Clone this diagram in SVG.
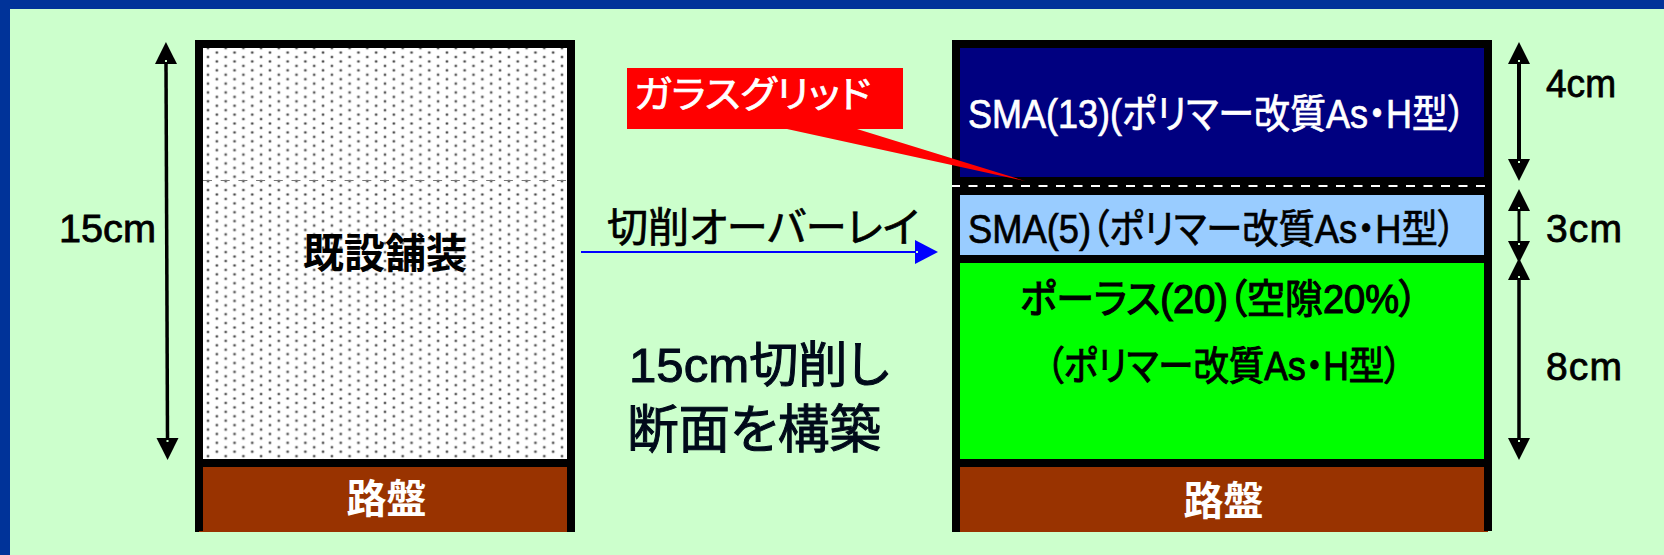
<svg xmlns="http://www.w3.org/2000/svg" width="1664" height="555" viewBox="0 0 1664 555">
<style>
text{font-family:"Liberation Sans","Noto Sans CJK JP",sans-serif;font-feature-settings:"palt";fill:#000}
.w{fill:#fff}
.b{font-weight:700}
.k{stroke:#000;stroke-width:.7px}
.kw{stroke:#fff;stroke-width:.7px}
.m{font-size:39px;stroke:#000;stroke-width:.8px}
.big{fill:#000a1a;stroke:#000a1a;stroke-width:1px}
.dim{stroke:#000;fill:none;marker-start:url(#head);marker-end:url(#head)}
</style>
<defs>
<g id="dot"><circle r="1.800" fill="#bbb"/><circle r="1" fill="#444"/></g>
<pattern id="dots" patternUnits="userSpaceOnUse" x="208" y="57" width="17.7" height="8.87">
<rect width="17.7" height="8.87" fill="#fff"/>
<use href="#dot"/><use href="#dot" x="17.7"/><use href="#dot" y="8.87"/><use href="#dot" x="17.7" y="8.87"/><use href="#dot" x="8.85" y="4.43"/>
</pattern>
<marker id="head" viewBox="0 0 22 22" refX="0" refY="11" markerUnits="userSpaceOnUse" markerWidth="22" markerHeight="22" orient="auto-start-reverse" overflow="visible">
<path d="M0 0L22 11L0 22Z" fill="#000"/><rect x="2" y="10" width="2" height="2" fill="#ccffcc"/>
</marker>
<marker id="bhead" viewBox="0 0 23 24" refX="0" refY="12" markerUnits="userSpaceOnUse" markerWidth="23" markerHeight="24" orient="auto">
<path d="M0 0L23 12L0 24Z" fill="#0000ff"/><rect x="1" y="11" width="2" height="2" fill="#ccffcc"/>
</marker>
</defs>
<rect width="1664" height="555" fill="#003399"/>
<rect x="10" y="9" width="1654" height="546" fill="#ccffcc"/>
<g id="existing-section">
<rect x="199" y="467" width="372" height="65" fill="#993300"/>
<rect x="195" y="40" width="380" height="492" fill="#000"/>
<rect x="199" y="531" width="4" height="1" fill="#993300"/>
<rect x="203" y="48" width="364" height="411" fill="url(#dots)"/>
<path d="M203 180.5H567" stroke="#777" stroke-width="1" stroke-dasharray="9 8.7" fill="none"/>
<text x="385" y="268" text-anchor="middle" class="b" font-size="41">既設舗装</text>
<rect id="left-base" x="203" y="467" width="364" height="65" fill="#993300"/>
<text x="386.500" y="513" text-anchor="middle" class="w b" font-size="40">路盤</text>
</g>
<g id="new-section">
<rect x="952" y="40" width="540" height="492" fill="#000"/>
<rect x="1484" y="531" width="8" height="1" fill="#ccffcc"/>
<rect x="1484" y="531" width="4" height="1" fill="#993300"/>
<path d="M952 186H1492" stroke="#fff" stroke-width="1.800" stroke-dasharray="9 8.500" stroke-dashoffset="1" fill="none"/>
<g id="layer-sma13">
<rect x="960" y="48" width="524" height="129" fill="#000080"/>
<text x="968" y="128" class="w kw" font-size="40" textLength="498" lengthAdjust="spacingAndGlyphs">SMA(13)(ポリマー改質As・H型）</text>
</g>
<g id="layer-sma5">
<rect x="960" y="195" width="524" height="60" fill="#99ccff"/>
<text x="968" y="243" class="k" font-size="40" textLength="488" lengthAdjust="spacingAndGlyphs">SMA(5)（ポリマー改質As・H型）</text>
</g>
<g id="layer-porous">
<rect x="960" y="263" width="524" height="196" fill="#00ff00"/>
<text x="1020" y="313" class="k" font-size="40" textLength="398" lengthAdjust="spacingAndGlyphs" style="stroke-width:1.200px">ポーラス(20)（空隙20%）</text>
<text x="1046" y="380" class="k" font-size="40" textLength="356" lengthAdjust="spacingAndGlyphs" style="stroke-width:1px">（ポリマー改質As・H型）</text>
</g>
<g id="right-base">
<rect x="960" y="467" width="524" height="65" fill="#993300"/>
<text x="1223.500" y="515" text-anchor="middle" class="w b" font-size="40">路盤</text>
</g>
</g>
<g id="callout">
<path d="M627 68H903V129H857L1025 181L787 129H627Z" fill="#ff0000"/>
<text x="634" y="108" class="w kw" font-size="37" textLength="237" lengthAdjust="spacingAndGlyphs">ガラスグリッド</text>
</g>
<g id="connectors">
<path class="dim" d="M166 64L167.500 438" stroke-width="3.500"/>
<path class="dim" d="M1519 64V159" stroke-width="4"/>
<path class="dim" d="M1519 211V241" stroke-width="3"/>
<path class="dim" d="M1519 280V438" stroke-width="3.500"/>
<path d="M581 252H915" stroke="#0000ff" stroke-width="2" fill="none" marker-end="url(#bhead)"/>
</g>
<g id="labels">
<text x="59" y="242" class="m" textLength="97" lengthAdjust="spacingAndGlyphs">15cm</text>
<text x="1546" y="97" class="m" textLength="70" lengthAdjust="spacingAndGlyphs">4cm</text>
<text x="1546" y="242" class="m" textLength="76">3cm</text>
<text x="1546" y="380" class="m" textLength="76">8cm</text>
<text x="607" y="242" font-size="41" class="k" textLength="312" lengthAdjust="spacingAndGlyphs">切削オーバーレイ</text>
<text x="629" y="382" class="big" font-size="49" textLength="260" lengthAdjust="spacingAndGlyphs">15cm切削し</text>
<text x="627" y="448" class="big" font-size="52" textLength="254" lengthAdjust="spacingAndGlyphs">断面を構築</text>
</g>
</svg>
